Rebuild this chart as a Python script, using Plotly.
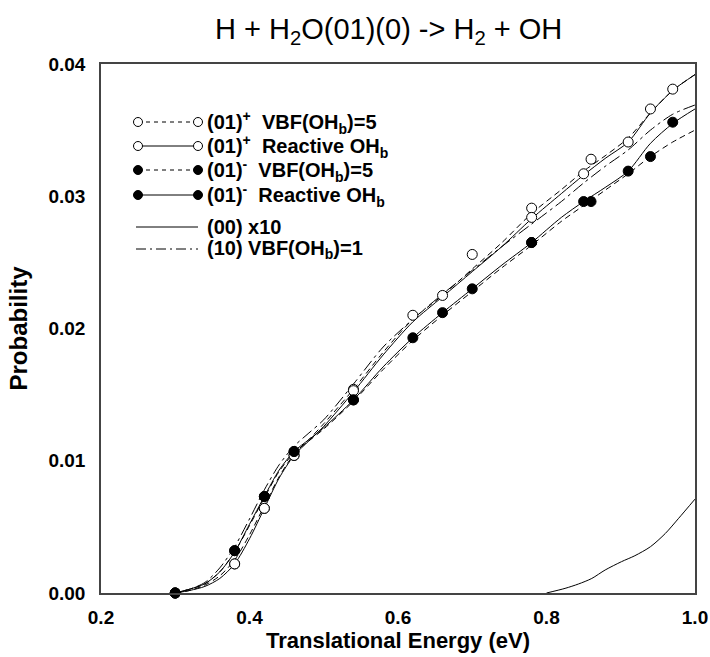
import plotly.graph_objects as go

# ---------------- data ----------------
energy = [0.30, 0.32, 0.34, 0.36, 0.38, 0.40, 0.42, 0.44, 0.46, 0.48, 0.50, 0.54, 0.58,
          0.62, 0.66, 0.70, 0.74, 0.78, 0.82, 0.85, 0.88, 0.91, 0.94, 0.97, 1.00]

plus_vbf5_curve = [0, 0.0002, 0.0006, 0.0013, 0.0025, 0.0044, 0.0066, 0.0088, 0.0105, 0.0116, 0.0128,
                   0.0154, 0.0182, 0.0207, 0.0225, 0.0245, 0.0265, 0.0287, 0.0305, 0.0319, 0.0331,
                   0.0344, 0.0363, 0.0380, 0.0392]
plus_react_curve = [0, 0.0002, 0.0005, 0.0011, 0.0022, 0.0041, 0.0064, 0.0087, 0.0104, 0.0115, 0.0126,
                    0.0152, 0.0180, 0.0205, 0.0224, 0.0243, 0.0262, 0.0283, 0.0302, 0.0316, 0.0329,
                    0.0341, 0.0363, 0.0380, 0.0392]
minus_vbf5_curve = [0, 0.0003, 0.0007, 0.0016, 0.0031, 0.0051, 0.0072, 0.0092, 0.0106, 0.0115, 0.0124,
                    0.0145, 0.0169, 0.0191, 0.0210, 0.0228, 0.0246, 0.0263, 0.0281, 0.0293, 0.0305,
                    0.0317, 0.0330, 0.0341, 0.0350]
minus_react_curve = [0, 0.0003, 0.0007, 0.0016, 0.0031, 0.0052, 0.0073, 0.0093, 0.0107, 0.0116, 0.0125,
                     0.0146, 0.0171, 0.0193, 0.0212, 0.0230, 0.0248, 0.0265, 0.0284, 0.0296, 0.0307,
                     0.0319, 0.0340, 0.0355, 0.0366]
v10_vbf1_curve = [0, 0.0003, 0.0008, 0.0019, 0.0035, 0.0056, 0.0078, 0.0097, 0.0111, 0.0121, 0.0131,
                  0.0158, 0.0186, 0.0207, 0.0226, 0.0244, 0.0262, 0.0279, 0.0296, 0.0310, 0.0323,
                  0.0335, 0.0350, 0.0362, 0.0369]

v00_energy = [0.80, 0.825, 0.843, 0.861, 0.879, 0.901, 0.919, 0.94, 0.96, 0.978, 1.00]
v00_x10 = [0.0, 0.00035, 0.00068, 0.0011, 0.00174, 0.00237, 0.00282, 0.0035, 0.0045, 0.00565, 0.0071]

plus_vbf5_pts_x = [0.30, 0.38, 0.42, 0.46, 0.54, 0.62, 0.66, 0.70, 0.78, 0.86, 0.94]
plus_vbf5_pts_y = [0, 0.0022, 0.0064, 0.0104, 0.0154, 0.0210, 0.0225, 0.0256, 0.0291, 0.0328, 0.0366]
plus_react_pts_x = [0.30, 0.38, 0.42, 0.46, 0.54, 0.78, 0.85, 0.91, 0.97]
plus_react_pts_y = [0, 0.0022, 0.0064, 0.0104, 0.0153, 0.0284, 0.0317, 0.0341, 0.0381]
minus_vbf5_pts_x = [0.30, 0.38, 0.42, 0.46, 0.54, 0.62, 0.66, 0.70, 0.78, 0.86, 0.94]
minus_vbf5_pts_y = [0, 0.0032, 0.0073, 0.0107, 0.0146, 0.0193, 0.0212, 0.0230, 0.0265, 0.0296, 0.0330]
minus_react_pts_x = [0.30, 0.38, 0.42, 0.46, 0.54, 0.78, 0.85, 0.91, 0.97]
minus_react_pts_y = [0, 0.0032, 0.0073, 0.0107, 0.0146, 0.0265, 0.0296, 0.0319, 0.0356]

x_ticks = [0.2, 0.4, 0.6, 0.8, 1.0]
x_tick_text = ["0.2", "0.4", "0.6", "0.8", "1.0"]
y_ticks = [0.00, 0.01, 0.02, 0.03, 0.04]
y_tick_text = ["0.00", "0.01", "0.02", "0.03", "0.04"]

legend_labels = [
    "(01)<sup>+</sup>  VBF(OH<sub>b</sub>)=5",
    "(01)<sup>+</sup>  Reactive OH<sub>b</sub>",
    "(01)<sup>-</sup>  VBF(OH<sub>b</sub>)=5",
    "(01)<sup>-</sup>  Reactive OH<sub>b</sub>",
    "(00) x10",
    "(10) VBF(OH<sub>b</sub>)=1",
]

# ---------------- figure ----------------
FONT = "Liberation Sans, Arial, sans-serif"
W, H = 710, 657
ML, MR, MT, MB = 101, 15, 64, 64
PW, PH = W - ML - MR, H - MT - MB

fig = go.Figure()

dash_plain = "6px,4px"
dash_dot = "12px,4px,3px,4px"

curves = [
    (energy, plus_vbf5_curve, dash_plain),
    (energy, plus_react_curve, "solid"),
    (energy, minus_vbf5_curve, dash_plain),
    (energy, minus_react_curve, "solid"),
    (v00_energy, v00_x10, "solid"),
    (energy, v10_vbf1_curve, dash_dot),
]
for xs, ys, d in curves:
    fig.add_trace(go.Scatter(x=xs, y=ys, mode="lines", showlegend=False, hoverinfo="skip",
                             line=dict(color="black", width=1, dash=d, shape="spline", smoothing=0.8)))

markers = [
    (plus_vbf5_pts_x, plus_vbf5_pts_y, "white"),
    (plus_react_pts_x, plus_react_pts_y, "white"),
    (minus_vbf5_pts_x, minus_vbf5_pts_y, "black"),
    (minus_react_pts_x, minus_react_pts_y, "black"),
]
for xs, ys, fc in markers:
    fig.add_trace(go.Scatter(x=xs, y=ys, mode="markers", showlegend=False, cliponaxis=False,
                             marker=dict(symbol="circle", size=10, color=fc,
                                         line=dict(color="black", width=1))))

# ---------------- custom legend ----------------
def px2paper(px, py):
    return (px - ML) / PW, (H - MB - py) / PH

row_y = [122, 146, 170, 195, 227, 249]
line_x0, line_x1, text_x = 138, 198, 205
legend_dash = ["dash", "solid", "dash", "solid", "solid", "dashdot"]
legend_marker = ["white", "white", "black", "black", None, None]
shapes = []
annotations = []
for i, lab in enumerate(legend_labels):
    x0, y0 = px2paper(line_x0, row_y[i])
    x1, _ = px2paper(line_x1, row_y[i])
    if legend_marker[i] is None:
        lx0, _ = px2paper(line_x0 - 2, row_y[i])
        lx1, _ = px2paper(line_x1, row_y[i])
    else:
        lx0, lx1 = x0, x1
    shapes.append(dict(type="line", xref="paper", yref="paper", x0=lx0, x1=lx1, y0=y0, y1=y0,
                       line=dict(color="black", width=1,
                                 dash="4px,4px" if legend_dash[i] == "dash" else
                                 ("10px,4px,2px,4px" if legend_dash[i] == "dashdot" else "solid"))))
    if legend_marker[i] is not None:
        for xa in (x0, x1):
            shapes.append(dict(type="circle", xref="paper", yref="paper", xsizemode="pixel",
                               ysizemode="pixel", xanchor=xa, yanchor=y0, x0=-4.5, x1=4.5,
                               y0=-4.5, y1=4.5, fillcolor=legend_marker[i],
                               line=dict(color="black", width=1)))
    tx, ty = px2paper(text_x, row_y[i])
    annotations.append(dict(text="<b>" + lab + "</b>", xref="paper", yref="paper", x=tx, y=ty,
                            xanchor="left", yanchor="middle", showarrow=False,
                            font=dict(family=FONT, size=20, color="black")))

tx, ty = px2paper(388, 31)
annotations.append(dict(text="H + H<sub>2</sub>O(01)(0) -> H<sub>2</sub> + OH", xref="paper",
                        yref="paper", x=tx, y=ty, xanchor="center", yanchor="middle",
                        showarrow=False, font=dict(family=FONT, size=29, color="black")))

fig.update_layout(
    width=W, height=H, autosize=False,
    margin=dict(l=ML, r=MR, t=MT, b=MB, autoexpand=False),
    paper_bgcolor="white", plot_bgcolor="white",
    font=dict(family=FONT, color="black"),
    shapes=shapes, annotations=annotations,
    showlegend=False,
    xaxis=dict(range=[0.2, 1.0], tickvals=x_ticks, ticktext=["<b>%s</b>" % t for t in x_tick_text],
               tickfont=dict(size=19), showgrid=False, zeroline=False, automargin=False,
               showline=True, mirror=True, linecolor="#444", linewidth=1.5, ticks="",
               ticklabelstandoff=6,
               title=dict(text="<b>Translational Energy (eV)</b>", font=dict(size=22), standoff=4)),
    yaxis=dict(range=[0.0, 0.04], tickvals=y_ticks, ticktext=["<b>%s</b>" % t for t in y_tick_text],
               tickfont=dict(size=19), showgrid=False, zeroline=False, automargin=False,
               showline=True, mirror=True, linecolor="#444", linewidth=1.5, ticks="",
               ticklabelstandoff=10,
               title=dict(text="<b>Probability</b>", font=dict(size=24), standoff=14)),
)

fig.write_html("out.html", config={"displayModeBar": False, "responsive": False},
               post_script="document.body.style.margin='0';document.body.style.overflow='hidden';")
